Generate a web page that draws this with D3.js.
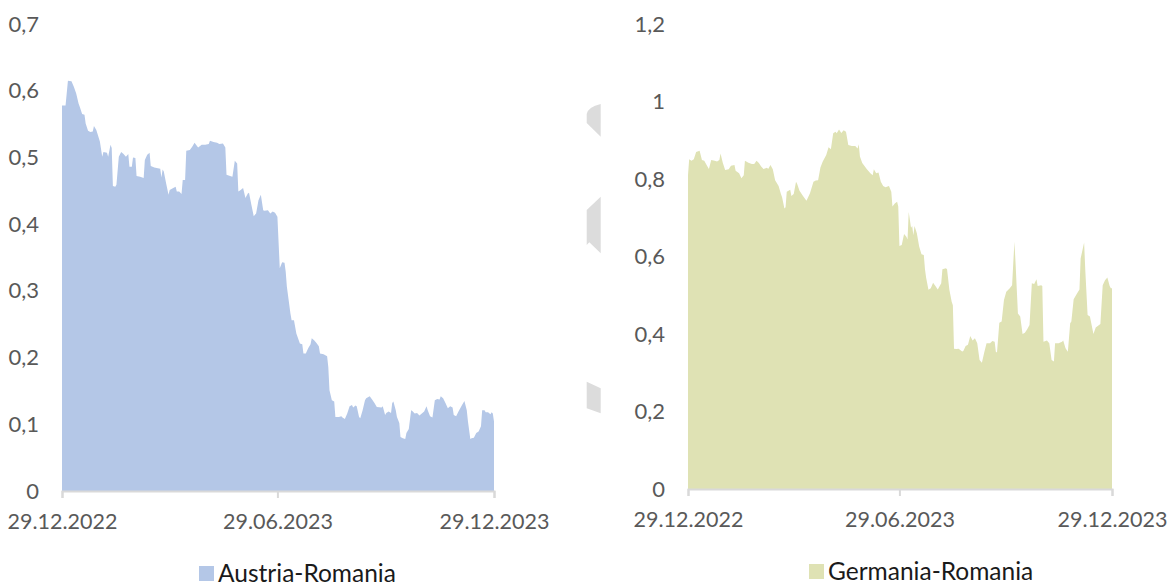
<!DOCTYPE html>
<html>
<head>
<meta charset="utf-8">
<script src="https://cdn.jsdelivr.net/npm/d3@7"></script>
<style>
  html, body { margin: 0; padding: 0; background: #fff; }
  svg { display: block; }
</style>
</head>
<body>
<svg id="chart" width="1169" height="588"></svg>
<script>
// ---------------- DATA ----------------
const startDate = "2022-12-29";
const xTickLabels = ["29.12.2022", "29.06.2023", "29.12.2023"];
const xTickDates = ["2022-12-29", "2023-06-29", "2023-12-29"];

const seriesNames = ["Austria-Romania", "Germania-Romania"];

// days since 29.12.2022
const austriaDays = [0,3,5,8,10,12,14,15,17,19,20,22,24,26,27,29,32,34,35,38,39,41,42,43,45,46,48,50,52,54,56,57,59,60,62,63,66,69,70,72,74,75,78,80,83,84,85,86,88,90,91,94,96,97,99,101,102,104,105,108,110,112,115,118,121,124,125,128,131,133,136,138,139,142,144,146,148,149,151,153,155,157,158,160,162,164,166,168,170,171,174,176,178,180,182,184,186,188,189,190,193,194,196,198,201,203,204,206,208,210,211,213,215,217,218,221,224,225,226,228,230,231,234,236,237,239,241,243,245,246,248,249,251,252,254,256,257,260,262,264,266,270,271,273,274,276,278,279,280,282,283,285,286,288,290,291,293,295,296,298,300,302,304,306,308,309,311,313,315,317,319,320,322,324,326,328,330,331,333,335,338,340,342,343,345,346,348,350,352,354,355,357,358,360,362,363,364,365];
const austriaValues = [0.578,0.578,0.615,0.614,0.606,0.596,0.581,0.576,0.565,0.564,0.551,0.540,0.538,0.539,0.547,0.541,0.524,0.501,0.508,0.507,0.501,0.519,0.514,0.457,0.456,0.459,0.501,0.508,0.505,0.501,0.505,0.486,0.486,0.500,0.499,0.472,0.471,0.469,0.496,0.504,0.507,0.487,0.485,0.484,0.483,0.470,0.482,0.479,0.461,0.444,0.451,0.454,0.456,0.449,0.449,0.445,0.466,0.466,0.510,0.511,0.516,0.522,0.515,0.519,0.519,0.520,0.525,0.523,0.522,0.520,0.521,0.515,0.474,0.472,0.471,0.495,0.491,0.449,0.451,0.454,0.439,0.446,0.447,0.429,0.412,0.416,0.436,0.444,0.421,0.420,0.421,0.416,0.419,0.417,0.411,0.334,0.343,0.342,0.329,0.306,0.266,0.256,0.256,0.236,0.221,0.220,0.206,0.206,0.214,0.220,0.229,0.226,0.222,0.217,0.206,0.205,0.202,0.186,0.151,0.136,0.134,0.111,0.111,0.112,0.110,0.108,0.116,0.127,0.129,0.125,0.128,0.127,0.111,0.109,0.121,0.136,0.139,0.142,0.137,0.132,0.126,0.125,0.127,0.114,0.117,0.119,0.117,0.132,0.134,0.121,0.111,0.102,0.081,0.079,0.078,0.087,0.093,0.121,0.120,0.116,0.117,0.113,0.116,0.119,0.127,0.121,0.112,0.110,0.136,0.138,0.137,0.142,0.139,0.132,0.124,0.127,0.125,0.114,0.112,0.119,0.129,0.135,0.121,0.104,0.078,0.079,0.080,0.087,0.089,0.097,0.121,0.121,0.118,0.118,0.115,0.118,0.116,0.104];

const germaniaDays = [0,1,3,5,7,10,12,14,16,18,20,23,25,27,28,30,32,35,37,40,41,44,46,48,49,52,55,57,59,61,63,65,68,69,71,73,75,78,80,81,83,84,85,88,89,91,93,94,96,99,102,105,108,110,112,114,116,119,121,123,125,127,128,130,132,134,136,138,141,144,146,147,148,150,154,157,159,160,162,164,166,168,170,173,175,176,178,180,181,182,184,186,188,189,190,192,193,194,195,197,199,201,203,204,205,207,209,211,213,215,218,219,222,223,225,227,228,229,231,233,236,237,239,241,243,245,247,249,251,253,255,257,260,262,264,265,266,268,270,272,274,277,279,280,281,282,284,286,288,290,292,294,296,298,300,301,304,305,306,309,311,313,315,316,319,322,323,325,327,329,330,332,335,337,338,341,342,344,346,349,351,353,355,357,359,361,363,364,365];
const germaniaValues = [0.810,0.851,0.847,0.851,0.870,0.873,0.849,0.847,0.836,0.826,0.849,0.847,0.845,0.849,0.866,0.841,0.823,0.825,0.834,0.836,0.821,0.815,0.802,0.810,0.847,0.842,0.839,0.839,0.847,0.841,0.832,0.826,0.829,0.826,0.836,0.825,0.797,0.782,0.761,0.753,0.724,0.727,0.767,0.772,0.756,0.761,0.793,0.787,0.770,0.756,0.744,0.763,0.793,0.796,0.797,0.830,0.845,0.862,0.882,0.877,0.918,0.922,0.918,0.928,0.919,0.926,0.922,0.888,0.885,0.885,0.879,0.890,0.858,0.841,0.825,0.815,0.810,0.825,0.815,0.817,0.793,0.782,0.779,0.782,0.767,0.729,0.737,0.741,0.729,0.627,0.630,0.658,0.651,0.644,0.715,0.674,0.679,0.655,0.679,0.660,0.626,0.606,0.604,0.567,0.545,0.514,0.518,0.532,0.524,0.515,0.531,0.567,0.570,0.567,0.514,0.483,0.474,0.362,0.361,0.362,0.355,0.356,0.369,0.372,0.395,0.383,0.389,0.376,0.333,0.326,0.352,0.376,0.376,0.382,0.380,0.354,0.352,0.429,0.432,0.488,0.509,0.518,0.526,0.582,0.638,0.582,0.453,0.445,0.400,0.403,0.412,0.423,0.531,0.529,0.541,0.524,0.526,0.524,0.380,0.383,0.376,0.333,0.329,0.376,0.376,0.380,0.383,0.363,0.354,0.428,0.432,0.490,0.505,0.515,0.595,0.636,0.565,0.449,0.445,0.400,0.417,0.421,0.426,0.526,0.539,0.546,0.524,0.518,0.518];

const leftYTicks = [0, 0.1, 0.2, 0.3, 0.4, 0.5, 0.6, 0.7];
const rightYTicks = [0, 0.2, 0.4, 0.6, 0.8, 1, 1.2];

// ---------------- STYLE / LAYOUT ----------------
const colors = ["#b4c7e7", "#dfe2b4"];
const axisColor = "#d9d9d9";
const labelColor = "#595959";
const fontFamily = "Lato, 'Open Sans', sans-serif";

const svg = d3.select("#chart");
const parse = d3.timeParse("%Y-%m-%d");
const t0 = parse(startDate);
const fmtComma = v => String(v).replace(".", ",");

function drawPanel(cfg) {
  const x = d3.scaleTime().domain([parse(xTickDates[0]), parse(xTickDates[2])]).range([cfg.x0, cfg.x1]);
  const y = d3.scaleLinear().domain([0, cfg.yMax]).range([cfg.yBase, cfg.yTop]);
  const data = cfg.days.map((d, i) => ({ date: d3.timeDay.offset(t0, d), v: cfg.values[i] }));
  const g = svg.append("g");

  g.append("path")
    .datum(data)
    .attr("fill", cfg.color)
    .attr("d", d3.area().x(d => x(d.date)).y0(y(0)).y1(d => y(d.v)).curve(d3.curveLinear));

  // x axis
  const xAxis = d3.axisBottom(x)
    .tickValues(xTickDates.map(parse))
    .tickFormat((d, i) => xTickLabels[i])
    .tickSize(7)
    .tickPadding(cfg.xPad);
  const ax = g.append("g").attr("transform", `translate(0,${cfg.yBase})`).call(xAxis);
  ax.select(".domain").attr("stroke", axisColor).attr("stroke-width", 2);
  ax.selectAll(".tick line").attr("stroke", axisColor).attr("stroke-width", 2);
  ax.selectAll(".tick text").attr("fill", labelColor).style("font-family", fontFamily).style("font-size", "21.5px");

  // y axis (labels only)
  const yAxis = d3.axisLeft(y).tickValues(cfg.yTicks).tickFormat(fmtComma).tickSize(0).tickPadding(0);
  const ay = g.append("g").attr("transform", `translate(${cfg.yLabelX},0)`).call(yAxis);
  ay.select(".domain").remove();
  ay.selectAll(".tick text").attr("fill", labelColor).style("font-family", fontFamily).style("font-size", "22px");

  // legend
  const lg = g.append("g").attr("transform", `translate(${cfg.legX},${cfg.legY})`);
  lg.append("rect").attr("x", 0).attr("y", -7).attr("width", 15).attr("height", 15).attr("fill", cfg.color);
  lg.append("text").attr("x", 19).attr("y", 0).attr("dy", "0.36em")
    .attr("fill", "#1a1a1a").style("font-family", fontFamily).style("font-size", "24.5px")
    .text(cfg.name);
}

drawPanel({ x0: 62, x1: 494, yBase: 491, yTop: 24, yMax: 0.7, yTicks: leftYTicks, yLabelX: 39, xPad: 16,
  days: austriaDays, values: austriaValues, color: colors[0], name: seriesNames[0], legX: 199, legY: 573 });
drawPanel({ x0: 688, x1: 1112, yBase: 489, yTop: 24, yMax: 1.2, yTicks: rightYTicks, yLabelX: 665, xPad: 16,
  days: germaniaDays, values: germaniaValues, color: colors[1], name: seriesNames[1], legX: 809, legY: 571 });

// decorative grey fragments between panels
const frag = svg.append("g").attr("fill", "#dcdcdc");
frag.append("path").attr("d", "M600.7,104 Q588,107 586.7,114 L586.7,123 L600.7,136.7 Z");
frag.append("path").attr("d", "M600.7,196.7 L586.7,210 L586.7,245 L589.3,242.3 L600.7,253.3 Z");
frag.append("path").attr("d", "M586.7,381.7 L600.7,388.3 L600.7,413.3 L586.7,408.3 Z");
</script>
</body>
</html>
